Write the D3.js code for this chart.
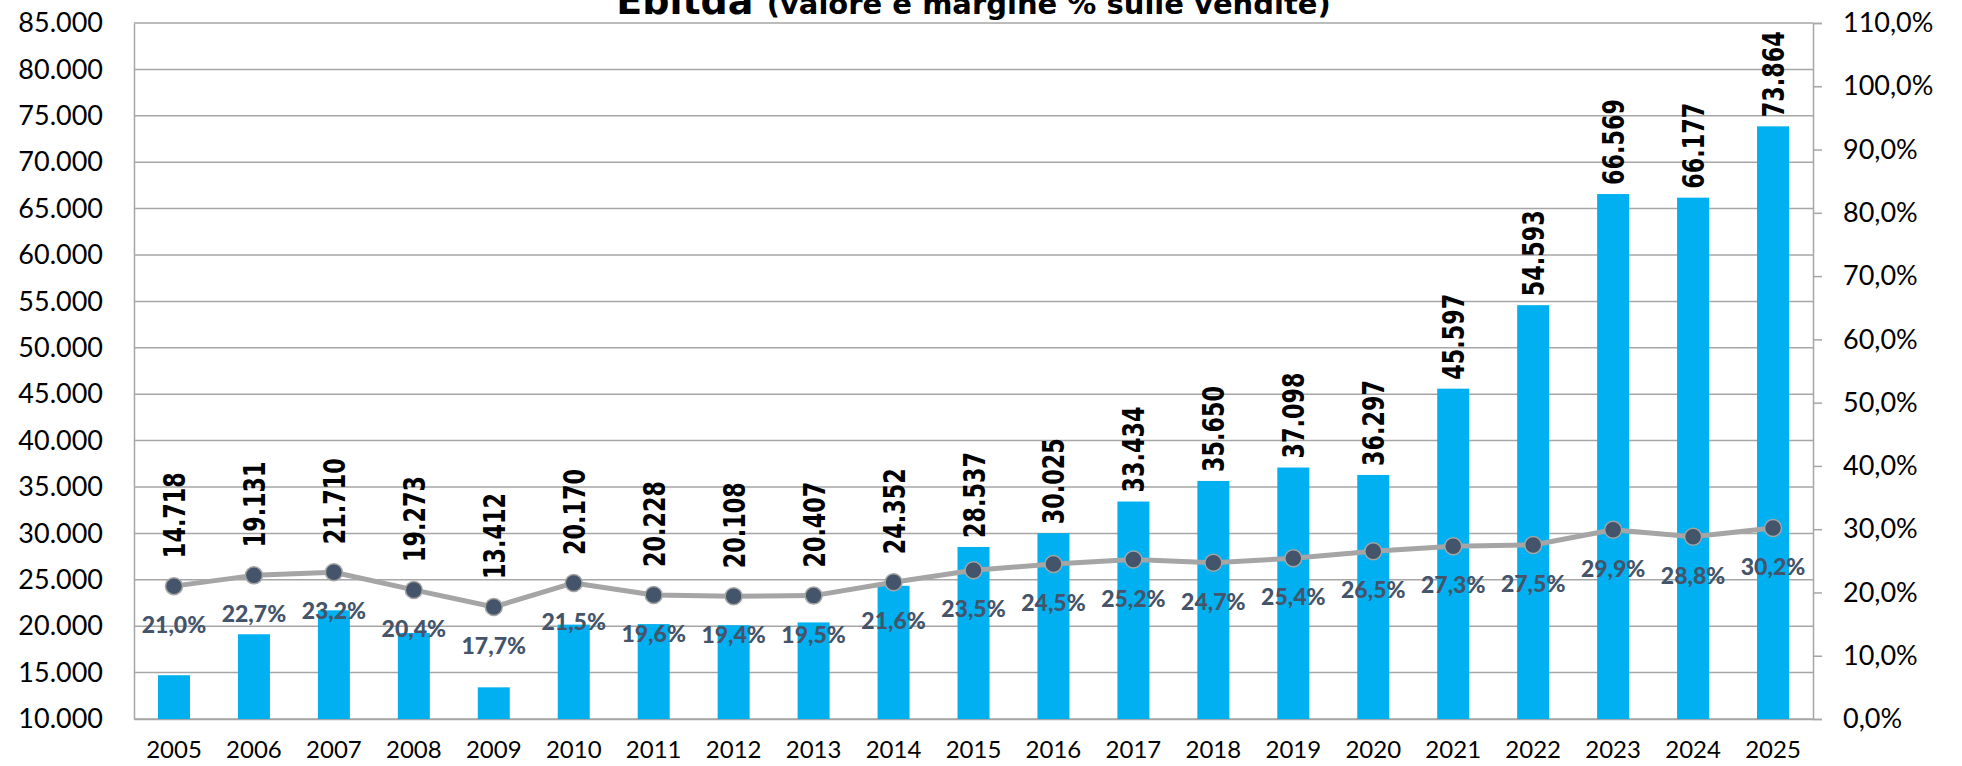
<!DOCTYPE html>
<html>
<head>
<meta charset="utf-8">
<script src="https://cdn.jsdelivr.net/npm/d3@7"></script>
<style>
  body { margin: 0; background: #fff; }
  svg { display: block; }
</style>
</head>
<body>
<div id="contenedorGrafico"></div>
<script>
// DATI
const anni = ["2005", "2006", "2007", "2008", "2009", "2010", "2011", "2012", "2013", "2014",
  "2015", "2016", "2017", "2018", "2019", "2020", "2021", "2022", "2023", "2024", "2025"];
const ebitda = [14718, 19131, 21710, 19273, 13412, 20170, 20228, 20108, 20407, 24352,
  28537, 30025, 33434, 35650, 37098, 36297, 45597, 54593, 66569, 66177, 73864];
const margine = [21.0, 22.7, 23.2, 20.4, 17.7, 21.5, 19.6, 19.4, 19.5, 21.6,
  23.5, 24.5, 25.2, 24.7, 25.4, 26.5, 27.3, 27.5, 29.9, 28.8, 30.2];
const tickSinistra = d3.range(10000, 85001, 5000);
const tickDestra = d3.range(0, 110.1, 10);

const ancho = 1962, alto = 766;
const margen = { top: 23, right: 149, bottom: 47, left: 134 };

const azul = "#00b0f0",
  gris = "#a5a5a5",
  pizarra = "#44546a",
  lineaGrilla = "#a6a6a6";

const fuente = "Lato, 'Noto Sans', sans-serif";
const fuenteEtiqueta = "'DejaVu Sans', sans-serif";

const $svg = d3.select("#contenedorGrafico")
  .append("svg")
  .attr("width", ancho)
  .attr("height", alto);

const x = d3.scaleBand()
  .domain(anni)
  .range([margen.left, ancho - margen.right])
  .paddingInner(0.6)
  .paddingOuter(0.3);

const y = d3.scaleLinear()
  .domain([10000, 85000])
  .range([alto - margen.bottom, margen.top]);

const y2 = d3.scaleLinear()
  .domain([0, 110])
  .range([alto - margen.bottom, margen.top]);

const formatoMigliaia = d3.formatLocale({ decimal: ",", thousands: ".", grouping: [3] }).format(",.0f");
const formatoPerc = v => d3.format(".1f")(v).replace(".", ",") + "%";

// GRIGLIA
$svg.append("g")
  .selectAll("line")
  .data(tickSinistra)
  .join("line")
  .attr("x1", margen.left)
  .attr("x2", ancho - margen.right)
  .attr("y1", d => y(d))
  .attr("y2", d => y(d))
  .attr("stroke", lineaGrilla)
  .attr("stroke-width", 1.5);

// ASSE SINISTRO
const asseSx = $svg.append("g")
  .attr("transform", `translate(${margen.left},0)`)
  .call(d3.axisLeft(y).tickValues(tickSinistra).tickFormat(formatoMigliaia).tickSize(0).tickPadding(31));
asseSx.select(".domain").attr("stroke", lineaGrilla).attr("stroke-width", 1.5);
asseSx.selectAll("text")
  .attr("font-family", fuente)
  .attr("font-size", 27)
  .attr("fill", "#000");

// ASSE DESTRO
const asseDx = $svg.append("g")
  .attr("transform", `translate(${ancho - margen.right},0)`)
  .call(d3.axisRight(y2).tickValues(tickDestra).tickFormat(formatoPerc).tickSize(9).tickPadding(21));
asseDx.select(".domain").attr("stroke", lineaGrilla).attr("stroke-width", 1.5);
asseDx.selectAll("line").attr("stroke", lineaGrilla).attr("stroke-width", 1.5);
asseDx.selectAll("text")
  .attr("font-family", fuente)
  .attr("font-size", 27)
  .attr("fill", "#000");

// ASSE X
const asseX = $svg.append("g")
  .attr("transform", `translate(0,${alto - margen.bottom})`)
  .call(d3.axisBottom(x).tickSize(0).tickPadding(22));
asseX.select(".domain").attr("stroke", lineaGrilla).attr("stroke-width", 1.5);
asseX.selectAll("text")
  .attr("font-family", fuente)
  .attr("font-size", 24)
  .attr("fill", "#000");

// BARRE
$svg.append("g")
  .selectAll("rect")
  .data(anni)
  .join("rect")
  .attr("x", d => x(d))
  .attr("width", x.bandwidth())
  .attr("y", (d, i) => y(ebitda[i]))
  .attr("height", (d, i) => y(10000) - y(ebitda[i]))
  .attr("fill", azul);

// LINEA MARGINE
const centro = d => x(d) + x.bandwidth() / 2;
const linea = d3.line()
  .x(d => centro(d))
  .y((d, i) => y2(margine[i]));

$svg.append("path")
  .datum(anni)
  .attr("d", linea)
  .attr("fill", "none")
  .attr("stroke", gris)
  .attr("stroke-width", 5)
  .attr("stroke-linejoin", "round");

$svg.append("g")
  .selectAll("circle")
  .data(anni)
  .join("circle")
  .attr("cx", d => centro(d))
  .attr("cy", (d, i) => y2(margine[i]))
  .attr("r", 8.5)
  .attr("fill", pizarra)
  .attr("stroke", gris)
  .attr("stroke-width", 1.5);

// ETICHETTE %
$svg.append("g")
  .selectAll("text")
  .data(anni)
  .join("text")
  .attr("x", d => centro(d))
  .attr("y", (d, i) => y2(margine[i]) + 38)
  .attr("text-anchor", "middle")
  .attr("dominant-baseline", "central")
  .attr("font-family", fuente)
  .attr("font-weight", 900)
  .attr("font-size", 23)
  .attr("fill", pizarra)
  .text((d, i) => formatoPerc(margine[i]));

// ETICHETTE VALORI (sopra barra o sopra la linea), strette come un font condensato
$svg.append("g")
  .selectAll("text")
  .data(anni)
  .join("text")
  .attr("transform", (d, i) => {
    const base = Math.min(y(ebitda[i]) - 9, y2(margine[i]) - 28);
    return `translate(${centro(d)},${base}) rotate(-90)`;
  })
  .attr("text-anchor", "start")
  .attr("dominant-baseline", "central")
  .attr("font-family", fuenteEtiqueta)
  .attr("font-weight", "bold")
  .attr("font-size", 31)
  .attr("textLength", 86)
  .attr("lengthAdjust", "spacingAndGlyphs")
  .attr("fill", "#000")
  .text((d, i) => formatoMigliaia(ebitda[i]));

// TITOLO (tagliato in alto come nell'originale)
const titolo = $svg.append("text")
  .attr("x", (margen.left + ancho - margen.right) / 2)
  .attr("y", 14)
  .attr("text-anchor", "middle")
  .attr("font-family", "'DejaVu Sans', sans-serif")
  .attr("font-weight", "bold")
  .attr("fill", "#000");
titolo.append("tspan").attr("font-size", 38).text("Ebitda ");
titolo.append("tspan").attr("font-size", 29).text("(valore e margine % sulle vendite)");
</script>
</body>
</html>
